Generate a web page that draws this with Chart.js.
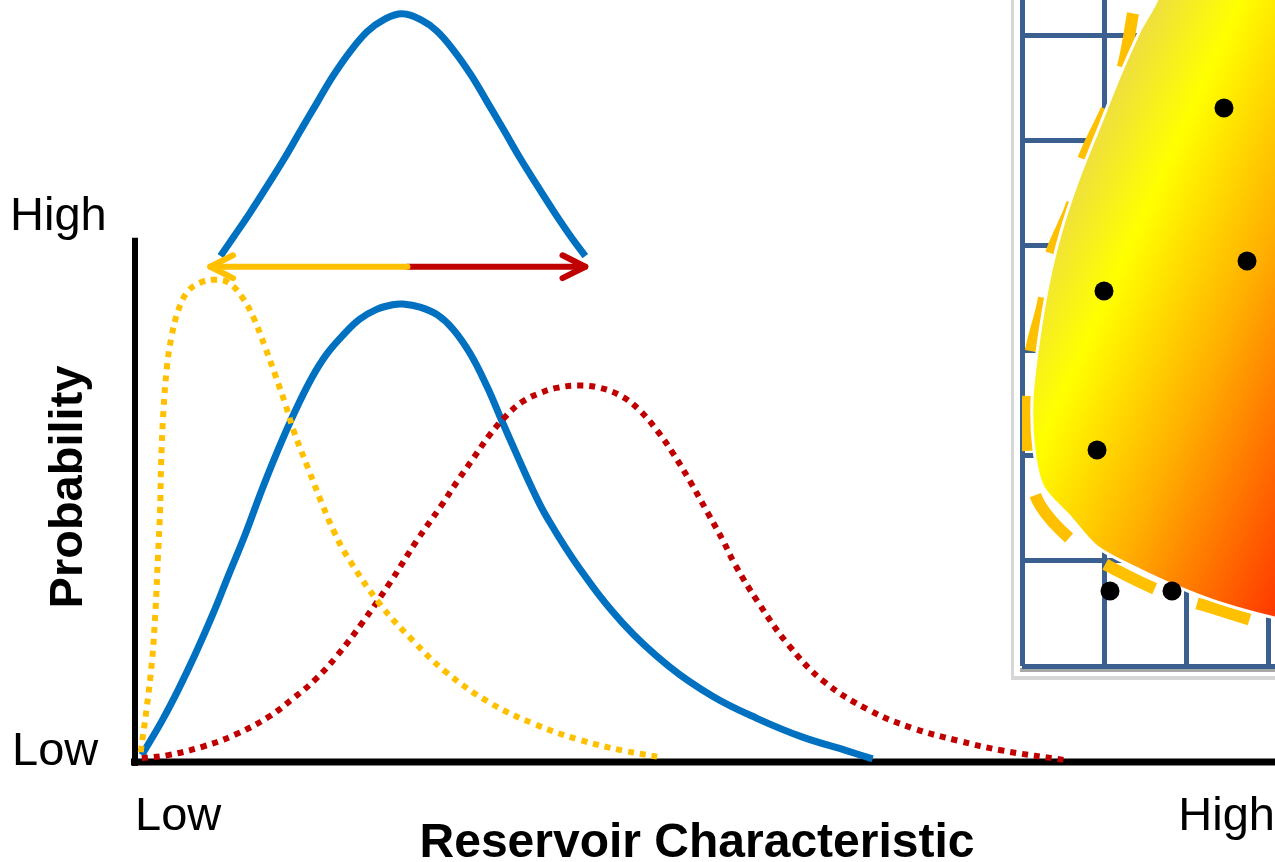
<!DOCTYPE html>
<html lang="en">
<head>
<meta charset="UTF-8">
<title>Reservoir Characteristic</title>
<style>
  body { margin: 0; background: #fff; overflow: hidden; }
  #wrap { position: relative; width: 1275px; height: 862px; }
  #main { position: absolute; left: 0; top: 0; }
  #inset { position: absolute; left: 1010px; top: 0; }
</style>
</head>
<body>
<div id="wrap">
  <canvas id="main" width="1275" height="862"></canvas>
  <canvas id="inset" width="265" height="682"></canvas>
</div>
<script src="https://cdn.jsdelivr.net/npm/chart.js"></script>
<script>
// main plot: x 0..100 (Low -> High), y 0..100 (probability)
const narrowCurve = [[7.5,66.4],[8.6,68.8],[10.1,72.1],[11.6,75.6],[13.1,79.2],[14.5,82.8],[16.0,86.6],[17.4,90.1],[18.9,93.3],[20.4,95.9],[21.8,97.4],[23.4,98.2],[25.1,97.4],[26.5,95.9],[28.0,93.3],[29.5,90.1],[30.9,86.6],[32.4,82.8],[33.8,79.2],[35.3,75.6],[36.8,72.1],[38.3,68.8],[39.5,66.4]];
const blueCurve = [[0.6,0.9],[2.4,5.5],[3.8,9.5],[5.3,14.2],[6.8,19.3],[8.2,24.5],[9.7,30.0],[11.1,35.6],[12.5,40.8],[14.0,45.9],[15.5,50.4],[16.8,53.5],[18.3,56.1],[19.7,58.1],[21.2,59.4],[22.6,60.0],[23.5,60.1],[25.0,59.7],[26.5,58.7],[27.9,56.8],[29.4,53.6],[30.9,49.2],[32.0,45.4],[33.5,40.3],[34.9,35.7],[36.1,32.2],[39.0,25.4],[42.8,18.2],[46.8,12.6],[50.7,8.6],[54.6,5.7],[58.5,3.3],[62.4,1.5],[64.7,0.4]];
const lowCurve = [[0.5,1.3],[1.0,6.8],[1.5,13.4],[1.8,20.0],[2.0,26.5],[2.2,33.1],[2.3,39.6],[2.5,46.2],[2.8,51.8],[3.2,55.8],[3.8,59.3],[4.6,61.7],[5.7,62.9],[7.0,63.3],[8.2,62.9],[9.4,61.0],[10.4,58.3],[11.4,54.5],[12.3,50.8],[13.2,46.9],[14.0,43.1],[15.2,38.5],[16.4,33.9],[17.5,30.1],[18.6,27.0],[21.5,20.7],[24.4,15.9],[27.2,11.9],[31.1,7.8],[35.0,5.0],[39.0,2.9],[42.8,1.5],[45.8,0.7]];
const highCurve = [[0.6,0.5],[2.9,0.9],[5.9,2.0],[8.8,3.6],[11.7,5.9],[14.0,8.5],[15.8,10.8],[17.7,13.9],[20.0,18.4],[22.4,23.6],[24.7,29.0],[26.8,33.5],[28.3,36.9],[29.7,39.9],[31.1,42.9],[32.6,45.5],[34.0,47.3],[35.5,48.4],[37.0,49.1],[38.9,49.4],[40.8,49.1],[42.8,47.9],[44.3,46.1],[45.8,43.5],[47.2,40.5],[48.7,36.8],[50.2,32.8],[51.6,29.0],[52.6,26.0],[54.6,21.1],[57.3,15.4],[60.4,10.6],[64.4,6.8],[68.3,4.4],[72.2,2.8],[76.1,1.5],[81.8,0.2]];

// range arrow
const arrowLow = [[6.6,65.0],[23.9,65.0]];
const arrowHigh = [[23.9,65.0],[39.5,65.0]];
const headLow = [[8.6,66.5],[6.6,65.0],[8.6,63.5]];
const headHigh = [[37.5,66.5],[39.5,65.0],[37.5,63.5]];

const yTickLabels = ['Low', 'High'];
const xTickLabels = ['Low', 'High'];
const yTitle = 'Probability';
const xTitle = 'Reservoir Characteristic';
const yAxisTop = 68.8;

// inset map: grid units
const insetRegion = [[1.683,7.5],[1.683,6.428],[1.439,6.047],[1.195,5.620],[0.951,5.144],[0.683,4.621],[0.463,4.098],[0.317,3.623],[0.195,3.052],[0.122,2.529],[0.146,2.054],[0.256,1.702],[0.585,1.417],[0.915,1.132],[1.439,0.913],[1.927,0.742],[2.415,0.599],[3.085,0.456],[3.6,0.39],[3.6,7.5],[1.683,7.5]];
const insetBoundary = [[1.451,6.627],[1.354,6.209],[1.232,5.705],[1.037,5.306],[0.744,4.811],[0.610,4.393],[0.341,3.889],[0.256,3.452],[0.098,2.948],[0.073,2.491],[0.073,1.968],[0.220,1.531],[0.732,1.112],[1.171,0.903],[1.805,0.675],[2.329,0.551],[3.024,0.380],[3.268,0.323]];
const insetWells = [[2.463,5.306],[2.744,3.851],[1.0,3.566],[0.915,2.054],[1.073,0.713],[1.829,0.713]];

const pts = a => a.map(p => ({ x: p[0], y: p[1] }));

function curve(data, color, dotted) {
  return {
    data: pts(data),
    showLine: true,
    borderColor: color,
    borderWidth: dotted ? 6 : 7,
    borderDash: dotted ? [6, 6] : [],
    borderCapStyle: 'butt',
    tension: 0.4,
    capBezierPoints: false,
    pointRadius: 0,
    fill: false,
    clip: false
  };
}

function segment(data, color) {
  return {
    data: pts(data),
    showLine: true,
    borderColor: color,
    borderWidth: 6,
    borderCapStyle: 'round',
    borderJoinStyle: 'round',
    pointRadius: 0,
    fill: false,
    clip: false
  };
}

const axesPlugin = {
  id: 'axes',
  beforeDatasetsDraw(chart) {
    const { ctx, scales: { x, y } } = chart;
    const x0 = x.getPixelForValue(0);
    const y0 = y.getPixelForValue(0);
    const yTop = y.getPixelForValue(yAxisTop);
    ctx.save();
    ctx.fillStyle = '#000';
    ctx.fillRect(x0 - 3, yTop, 6, y0 - yTop + 4);
    ctx.fillRect(x0 - 4, y0 - 3.5, chart.width - x0 + 4, 7);
    ctx.restore();
  },
  afterDraw(chart) {
    const ctx = chart.ctx;
    ctx.save();
    ctx.fillStyle = '#000';
    ctx.textBaseline = 'alphabetic';
    ctx.font = '47px "Liberation Sans", Arial, sans-serif';
    ctx.textAlign = 'left';
    ctx.fillText(yTickLabels[1], 10, 230);
    ctx.fillText(yTickLabels[0], 12, 765);
    ctx.fillText(xTickLabels[0], 135, 830);
    ctx.textAlign = 'right';
    ctx.fillText(xTickLabels[1], 1275, 830);

    ctx.font = 'bold 48px "Liberation Sans", Arial, sans-serif';
    ctx.textAlign = 'center';
    ctx.fillText(xTitle, 697, 857);
    ctx.font = 'bold 47px "Liberation Sans", Arial, sans-serif';
    ctx.translate(82, 487);
    ctx.rotate(-Math.PI / 2);
    ctx.fillText(yTitle, 0, 0);
    ctx.restore();
  }
};

new Chart(document.getElementById('main'), {
  type: 'scatter',
  data: {
    datasets: [
      segment(headLow, '#FFC000'),
      segment(headHigh, '#C00000'),
      segment(arrowLow, '#FFC000'),
      segment(arrowHigh, '#C00000'),
      curve(lowCurve, '#FFC000', true),
      curve(highCurve, '#C00000', true),
      curve(blueCurve, '#0070C0', false),
      curve(narrowCurve, '#0070C0', false)
    ]
  },
  options: {
    responsive: false,
    animation: false,
    events: [],
    layout: { autoPadding: false, padding: { left: 135, right: 0, top: 0, bottom: 100 } },
    plugins: { legend: { display: false }, tooltip: { enabled: false } },
    scales: {
      x: { type: 'linear', min: 0, max: 100, display: false },
      y: { type: 'linear', min: 0, max: 100, display: false }
    }
  },
  plugins: [axesPlugin]
});

// inset frame
const framePlugin = {
  id: 'frame',
  beforeDraw(chart) {
    const { ctx, width, height, chartArea } = chart;
    ctx.save();
    ctx.fillStyle = '#fff';
    ctx.fillRect(0, 0, width, height);
    ctx.fillStyle = '#d6d6d6';
    ctx.fillRect(1, 0, 3, height - 2);
    ctx.fillRect(1, height - 6, width, 4);
    ctx.fillStyle = '#a8a8a8';
    ctx.fillRect(chartArea.left - 2, chartArea.bottom + 2, width, 4);
    ctx.restore();
  }
};

function regionFill(context) {
  const chart = context.chart;
  const { x, y } = chart.scales;
  if (!chart.chartArea || !x || !y) return '#FFD000';
  const g = chart.ctx.createLinearGradient(
    x.getPixelForValue(1.63), y.getPixelForValue(6.69),
    x.getPixelForValue(5.77), y.getPixelForValue(5.23));
  g.addColorStop(0, '#ecd84c');
  g.addColorStop(0.25, '#ffff00');
  g.addColorStop(0.58, '#ffb000');
  g.addColorStop(1, '#ff3c00');
  return g;
}

const gridAxis = (max, fit) => ({
  type: 'linear',
  min: 0,
  max: max,
  ticks: { stepSize: 1, display: false, includeBounds: false },
  grid: { color: '#3b5f8f', lineWidth: 5, drawTicks: false },
  border: { display: false },
  afterFit: fit
});

new Chart(document.getElementById('inset'), {
  type: 'scatter',
  data: {
    datasets: [
      {
        data: pts(insetWells),
        pointRadius: 9.5,
        pointBackgroundColor: '#000',
        pointBorderWidth: 0,
        clip: false
      },
      {
        data: pts(insetRegion),
        showLine: true,
        fill: 'shape',
        backgroundColor: regionFill,
        borderColor: '#ffffff',
        borderWidth: 3,
        tension: 0.3,
        capBezierPoints: false,
        pointRadius: 0
      },
      {
        data: pts(insetBoundary),
        showLine: true,
        fill: false,
        borderColor: '#FFC000',
        borderWidth: 12,
        borderDash: [55, 45],
        borderDashOffset: 55,
        borderCapStyle: 'butt',
        tension: 0.35,
        capBezierPoints: false,
        pointRadius: 0
      }
    ]
  },
  options: {
    responsive: false,
    animation: false,
    events: [],
    layout: { autoPadding: false, padding: { left: 12, right: 0, top: 0, bottom: 16 } },
    plugins: { legend: { display: false }, tooltip: { enabled: false } },
    scales: {
      x: gridAxis(3.085, s => { s.height = 0; }),
      y: gridAxis(6.333, s => { s.width = 0; })
    }
  },
  plugins: [framePlugin]
});
</script>
</body>
</html>
